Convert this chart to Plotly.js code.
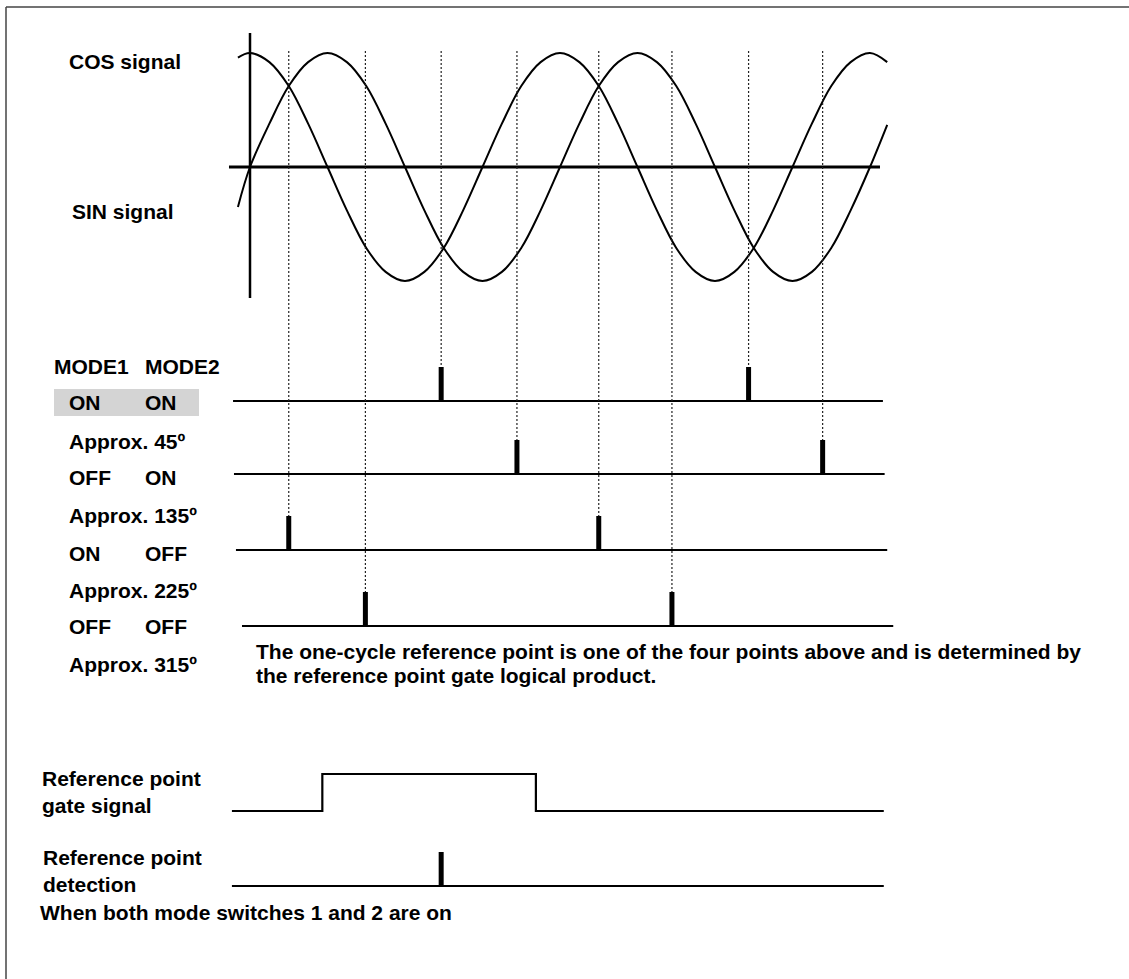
<!DOCTYPE html>
<html>
<head>
<meta charset="utf-8">
<script src="https://cdn.plot.ly/plotly-3.0.1.min.js"></script>
<style>html,body{margin:0;padding:0;background:#fff;}#chart{width:1129px;height:979px;}</style>
</head>
<body>
<div id="chart"></div>
<script>
// ---------------- data (phase in electrical degrees) ----------------
const phaseDeg = [-14, 0, 22.5, 45, 67.5, 90, 112.5, 135, 157.5, 180, 202.5, 225, 247.5, 270, 292.5, 315, 337.5,
  360, 382.5, 405, 427.5, 450, 472.5, 495, 517.5, 540, 562.5, 585, 607.5, 630, 652.5, 675, 697.5, 720, 740];
const cosSignal = [0.96, 1, 0.92, 0.71, 0.38, 0, -0.38, -0.71, -0.92, -1, -0.92, -0.71, -0.38, 0, 0.38, 0.71, 0.92,
  1, 0.92, 0.71, 0.38, 0, -0.38, -0.71, -0.92, -1, -0.92, -0.71, -0.38, 0, 0.38, 0.71, 0.92, 1, 0.92];
const sinSignal = [-0.35, 0, 0.38, 0.71, 0.92, 1, 0.92, 0.71, 0.38, 0, -0.38, -0.71, -0.92, -1, -0.92, -0.71, -0.38,
  0, 0.38, 0.71, 0.92, 1, 0.92, 0.71, 0.38, 0, -0.38, -0.71, -0.92, -1, -0.92, -0.71, -0.38, 0, 0.37];

const modeLabels = ["ON    ON", "OFF   ON", "ON    OFF", "OFF   OFF"];
const mode1Labels = ["ON", "OFF", "ON", "OFF"];
const mode2Labels = ["ON", "ON", "OFF", "OFF"];
const approxLabels = ["Approx. 45º", "Approx. 135º", "Approx. 225º", "Approx. 315º"];
const rowStartDeg = [-19.7, -18.6, -16.3, -9.3];
const rowEndDeg = [735, 737, 740, 747];
const pulsesOnOn = [222, 579];
const pulsesOffOn = [310, 665];
const pulsesOnOff = [45, 405];
const pulsesOffOff = [134, 490];

const gatePhase = [-21, 84, 332, 736];
const gateLevel = [0, 1, 0, 0];
const detectPhase = [-21, 736];
const detectPulse = [222];

const noteLines = ["The one-cycle reference point is one of the four points above and is determined by",
  "the reference point gate logical product."];

// ---------------- layout constants ----------------
const W = 1129, H = 979;
const k = 620 / 720;            // px per degree
const x0 = 250;                 // px of 0 deg
const axisY = 167, amp = 114;   // waveform centre / amplitude (px)
const rowBase = [401, 474, 550, 626];
const pulseH = 34;
const gateLow = 811, gateHigh = 774;
const detBase = 886;
const dashTop = 51;
const FONT = {family: "Liberation Sans, Arial, Helvetica, sans-serif", size: 21, color: "#000", weight: "bold"};

const traces = [];
const black = "#000";

// axes of waveform
traces.push({x: [-24.4, 731.6], y: [axisY, axisY], mode: "lines", line: {color: black, width: 3}});
traces.push({x: [0, 0], y: [33, 298], mode: "lines", line: {color: black, width: 2.5}});

// waveforms
traces.push({x: phaseDeg, y: cosSignal.map(v => axisY - amp * v), mode: "lines",
  line: {color: black, width: 2, shape: "spline", smoothing: 1}});
traces.push({x: phaseDeg, y: sinSignal.map(v => axisY - amp * v), mode: "lines",
  line: {color: black, width: 2, shape: "spline", smoothing: 1}});

// rows
const rowPulses = [pulsesOnOn, pulsesOffOn, pulsesOnOff, pulsesOffOff];
const dx = [], dy = [], px = [], py = [];
rowPulses.forEach((ps, i) => {
  traces.push({x: [rowStartDeg[i], rowEndDeg[i]], y: [rowBase[i], rowBase[i]], mode: "lines",
    line: {color: black, width: 2.2}});
  ps.forEach(p => {
    px.push(p, p, null); py.push(rowBase[i], rowBase[i] - pulseH, null);
    dx.push(p, p, null); dy.push(dashTop, rowBase[i] - pulseH, null);
  });
});
traces.push({x: dx, y: dy, mode: "lines", line: {color: "#222", width: 1.2, dash: "2px,2px"}});
traces.push({x: px, y: py, mode: "lines", line: {color: black, width: 5}});

// gate signal
traces.push({x: gatePhase, y: gateLevel.map(v => v ? gateHigh : gateLow), mode: "lines",
  line: {color: black, width: 2.2, shape: "hv"}});
// detection
traces.push({x: detectPhase, y: [detBase, detBase], mode: "lines", line: {color: black, width: 2.2}});
traces.push({x: [detectPulse[0], detectPulse[0]], y: [detBase, detBase - pulseH], mode: "lines",
  line: {color: black, width: 5}});

// ---------------- annotations ----------------
const ann = [];
function txt(t, xp, yp) {
  ann.push({text: t, xref: "paper", yref: "paper", x: xp / W, y: 1 - yp / H, xanchor: "left", yanchor: "middle",
    showarrow: false, font: FONT, borderpad: 0});
}
txt("COS signal", 68, 61);
txt("SIN signal", 71, 211);
txt("MODE1", 53, 366);
txt("MODE2", 144, 366);
const rowTextY = [402.5, 477.5, 553, 626.5];
const apxTextY = [441, 515.5, 590.5, 664.5];
for (let i = 0; i < 4; i++) {
  txt(mode1Labels[i], 68, rowTextY[i]);
  txt(mode2Labels[i], 144, rowTextY[i]);
  txt(approxLabels[i], 68, apxTextY[i]);
}
txt(noteLines[0], 255, 651);
txt(noteLines[1], 255, 675);
txt("Reference point", 41, 778);
txt("gate signal", 41, 805);
txt("Reference point", 42, 857.5);
txt("detection", 42, 884);
txt("When both mode switches 1 and 2 are on", 39, 912.5);

const shapes = [
  {type: "rect", xref: "paper", yref: "paper", x0: 54 / W, x1: 199 / W, y0: 1 - 416 / H, y1: 1 - 389 / H,
    fillcolor: "#d4d4d4", line: {width: 0}, layer: "below"},
  {type: "line", xref: "paper", yref: "paper", x0: 6 / W, x1: 1.01, y0: 1 - 7 / H, y1: 1 - 7 / H,
    line: {color: "#444", width: 1.5}},
  {type: "line", xref: "paper", yref: "paper", x0: 6 / W, x1: 6 / W, y0: 1 - 7 / H, y1: -0.01,
    line: {color: "#444", width: 1.5}}
];

const layout = {
  width: W, height: H, margin: {l: 0, r: 0, t: 0, b: 0},
  paper_bgcolor: "#fff", plot_bgcolor: "#fff", showlegend: false,
  xaxis: {range: [-x0 / k, (W - x0) / k], visible: false, fixedrange: true},
  yaxis: {range: [H, 0], visible: false, fixedrange: true},
  annotations: ann, shapes: shapes
};
Plotly.newPlot("chart", traces, layout, {staticPlot: true, displayModeBar: false});
</script>
</body>
</html>
